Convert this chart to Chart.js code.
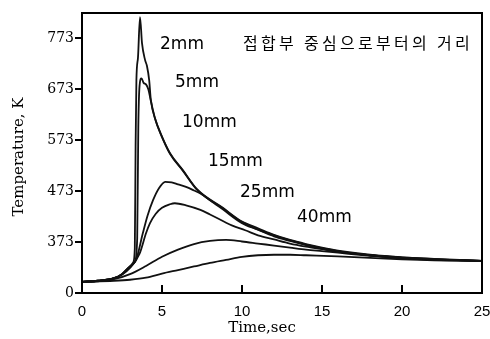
<!DOCTYPE html>
<html>
<head>
<meta charset="utf-8">
<script src="https://cdn.jsdelivr.net/npm/chart.js"></script>
<style>
html, body { margin: 0; padding: 0; background: #fff; }
</style>
</head>
<body>
<canvas id="myChart" width="490" height="339"></canvas>
<script>
// time (sec) and temperature (K), one pair per distance
var t2mm = [0, 1, 2, 2.5, 3, 3.2, 3.3, 3.35, 3.4, 3.5, 3.625, 3.75, 3.94, 4.06, 4.2, 4.3, 4.6, 4.9, 5.5, 6.3, 7.2, 8.8, 10, 11, 12, 13, 14, 15, 16, 18, 20, 22, 25];
var v2mm = [295, 297, 302, 310, 325, 333, 360, 560, 690, 735, 814, 763, 730, 718, 690, 652, 612, 587, 547, 514, 476, 440, 413, 400, 387, 377, 369, 362, 356, 348, 343, 340, 336];

var t5mm = [0, 1, 2, 2.5, 3, 3.3, 3.45, 3.52, 3.6, 3.72, 3.85, 4.0, 4.15, 4.3, 4.6, 4.9, 5.5, 6.3, 7.2, 8.8, 10, 12, 14, 16, 18, 20, 22, 25];
var v5mm = [295, 297, 302, 310, 325, 334, 380, 600, 680, 694, 685, 682, 672, 650, 611, 586, 546, 513, 475, 439, 412, 386, 368, 355, 347, 343, 339, 336];

var t10mm = [0, 1, 2, 2.5, 3, 3.4, 3.8, 4.1, 4.44, 4.8, 5.2, 5.6, 6, 6.5, 7, 7.4, 8, 8.8, 10, 11, 12, 13, 14, 15, 16, 18, 20, 22, 25];
var v10mm = [295, 297, 302, 310, 325, 340, 390, 425, 455, 478, 491, 490, 486, 481, 474, 468, 455, 437, 410, 397, 384, 375, 367, 360, 354, 347, 342, 339, 336];

var t15mm = [0, 1, 2, 2.5, 3, 3.6, 4.0, 4.25, 4.6, 5.0, 5.5, 5.8, 6.5, 7.4, 8, 9.4, 10.2, 11, 12, 13, 14, 15, 16, 18, 20, 22, 25];
var v15mm = [295, 297, 302, 309, 322, 350, 390, 410, 428, 440, 447, 449, 445, 436, 427, 405, 396, 386, 378, 370, 364, 359, 354, 347, 342, 339, 336];

var t25mm = [0, 1, 2, 3, 4, 5, 6, 7, 8, 9, 10, 11, 12, 13, 14, 15, 16, 18, 20, 22, 25];
var v25mm = [295, 296, 300, 310, 326, 344, 358, 369, 375, 377, 374, 370, 366, 362, 358, 355, 352, 346, 341, 338, 336];

var t40mm = [0, 2, 3, 4, 5, 6, 7, 8, 9, 10, 11, 12, 13, 14, 16, 18, 20, 22, 25];
var v40mm = [295, 297, 299, 303, 311, 318, 325, 332, 338, 344, 347, 348, 348, 347, 345, 342, 339, 337, 336];

var seriesNames = ["2mm", "5mm", "10mm", "15mm", "25mm", "40mm"];
var yTicks = [273, 373, 473, 573, 673, 773];
var xTicks = [0, 5, 10, 15, 20, 25];
var innerXTicks = [5, 10, 15, 20];
var legendTitle = "접합부 중심으로부터의 거리";
var xTitle = "Time,sec";
var yTitle = "Temperature, K";

function pairs(ts, vs) {
    return ts.map(function (t, i) { return { x: t, y: vs[i] }; });
}

var allT = [t2mm, t5mm, t10mm, t15mm, t25mm, t40mm];
var allV = [v2mm, v5mm, v10mm, v15mm, v25mm, v40mm];
var datasets = seriesNames.map(function (name, i) {
    return {
        label: name,
        data: pairs(allT[i], allV[i]),
        borderColor: '#111',
        borderWidth: 1.8,
        pointRadius: 0,
        fill: false,
        cubicInterpolationMode: 'monotone'
    };
});

// where the curve names sit (left edge, middle of text)
var labelPos = [[160, 45], [175, 83], [182, 123], [208, 162], [240, 193], [297, 218]];

var decorations = {
    id: 'decorations',
    afterDraw: function (chart) {
        var ctx = chart.ctx;
        var a = chart.chartArea;
        var xs = chart.scales.x;
        ctx.save();
        ctx.strokeStyle = '#000';
        ctx.lineWidth = 2;
        ctx.strokeRect(a.left, a.top, a.right - a.left, a.bottom - a.top);

        // x ticks point inwards
        innerXTicks.forEach(function (v) {
            var px = Math.round(xs.getPixelForValue(v));
            ctx.beginPath();
            ctx.moveTo(px, a.bottom);
            ctx.lineTo(px, a.bottom - 8);
            ctx.stroke();
        });

        ctx.fillStyle = '#000';
        ctx.textBaseline = 'middle';
        ctx.textAlign = 'left';
        ctx.font = '17px "DejaVu Sans"';
        seriesNames.forEach(function (name, i) {
            ctx.fillText(name, labelPos[i][0], labelPos[i][1]);
        });

        // korean heading, spread out a little like the original
        ctx.font = '16px "Noto Sans CJK KR"';
        var cx = 243;
        Array.from(legendTitle).forEach(function (ch) {
            ctx.fillText(ch, cx, 43);
            cx += ctx.measureText(ch).width + 3.3;
        });

        ctx.textAlign = 'center';
        ctx.font = '15px "DejaVu Serif"';
        ctx.fillText(xTitle, 262, 328);

        ctx.translate(19, 157);
        ctx.rotate(-Math.PI / 2);
        ctx.font = '15px "DejaVu Serif"';
        ctx.fillText(yTitle, 0, 0);
        ctx.restore();
    }
};

var myChart = document.getElementById("myChart");
new Chart(myChart, {
    type: 'line',
    data: { datasets: datasets },
    options: {
        responsive: false,
        animation: false,
        devicePixelRatio: 1,
        layout: { padding: { top: 13, right: 8, left: 0, bottom: 0 } },
        plugins: { legend: { display: false }, tooltip: { enabled: false } },
        scales: {
            x: {
                type: 'linear',
                min: 0,
                max: 25,
                afterBuildTicks: function (s) { s.ticks = xTicks.map(function (v) { return { value: v }; }); },
                afterFit: function (s) { s.height = 46; s.paddingLeft = 0; s.paddingRight = 0; },
                grid: { display: false, drawTicks: false },
                border: { display: false },
                ticks: {
                    padding: 10,
                    maxRotation: 0,
                    color: '#000',
                    font: { family: '"Liberation Sans"', size: 15 }
                }
            },
            y: {
                type: 'linear',
                min: 273,
                max: 822,
                afterBuildTicks: function (s) { s.ticks = yTicks.map(function (v) { return { value: v }; }); },
                afterFit: function (s) { s.width = 82; },
                grid: {
                    display: true,
                    drawOnChartArea: false,
                    drawTicks: true,
                    tickLength: 7,
                    color: '#000',
                    lineWidth: 2
                },
                border: { display: false },
                ticks: {
                    padding: 1,
                    color: '#000',
                    font: { family: '"DejaVu Serif"', size: 14 },
                    callback: function (v) { return v === 273 ? '0' : v; }
                }
            }
        }
    },
    plugins: [decorations]
});
</script>
</body>
</html>
